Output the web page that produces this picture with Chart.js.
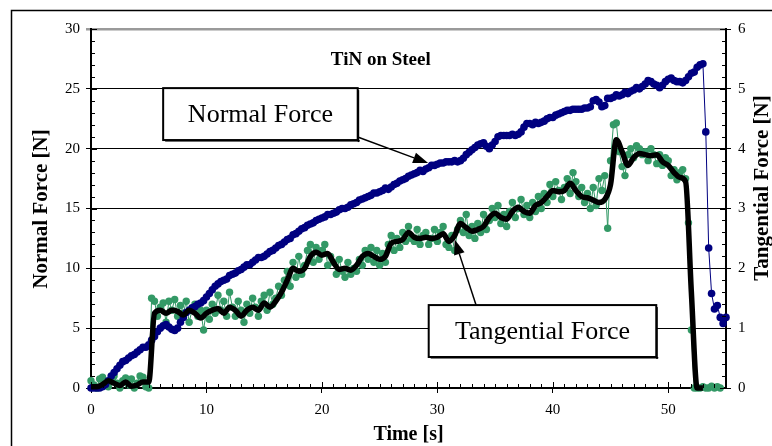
<!DOCTYPE html>
<html>
<head>
<meta charset="utf-8">
<script src="https://cdn.jsdelivr.net/npm/chart.js@4.4.1/dist/chart.umd.min.js"></script>
<style>
  html, body { margin: 0; padding: 0; background: #fff; }
  #wrap { width: 772px; height: 446px; }
</style>
</head>
<body>
<div id="wrap"><canvas id="chart" width="772" height="446"></canvas></div>
<script>
// sample grid (s)
const timeStep = 0.25;
const smoothStep = 0.5;

// Normal force [N], every 0.25 s from 0 to 55 s
const normalForce = [
  0, 0, 0, 0,
  0.1, 0.3, 0.6, 1.0,
  1.3, 1.6, 1.9, 2.2,
  2.3, 2.5, 2.7, 2.8,
  3.0, 3.2, 3.4, 3.4,
  3.6, 4.0, 4.3, 4.7,
  5.0, 5.2, 5.3, 5.1,
  4.9, 4.8, 5.0, 5.5,
  5.9, 6.3, 6.5, 6.7,
  6.8, 7.0, 7.1, 7.3,
  7.6, 7.9, 8.2, 8.5,
  8.7, 8.9, 9.0, 9.1,
  9.4, 9.5, 9.6, 9.8,
  9.9, 10.1, 10.3, 10.3,
  10.5, 10.7, 10.9, 10.9,
  11.0, 11.2, 11.4, 11.5,
  11.7, 11.9, 12.0, 12.2,
  12.4, 12.5, 12.8, 12.9,
  13.1, 13.3, 13.4, 13.6,
  13.7, 13.8, 14.0, 14.1,
  14.2, 14.3, 14.5, 14.5,
  14.6, 14.7, 14.9, 15.0,
  15.0, 15.1, 15.3, 15.4,
  15.5, 15.7, 15.8, 15.9,
  16.0, 16.1, 16.3, 16.3,
  16.4, 16.5, 16.7, 16.6,
  16.8, 17.0, 17.1, 17.3,
  17.4, 17.5, 17.7, 17.8,
  17.9, 18.0, 18.2, 18.1,
  18.3, 18.4, 18.6, 18.6,
  18.7, 18.8, 18.8, 18.9,
  18.9, 18.9, 19.0, 18.9,
  19.0, 19.2, 19.5, 19.7,
  19.9, 20.1, 20.3, 20.4,
  20.5, 20.2, 20.0, 20.3,
  20.6, 21.0, 21.1, 21.1,
  21.1, 21.1, 21.2, 21.1,
  21.2, 21.4, 21.8, 22.1,
  22.1, 22.0, 22.2, 22.1,
  22.2, 22.3, 22.5, 22.6,
  22.6, 22.8, 22.9, 23.0,
  23.1, 23.2, 23.2, 23.3,
  23.3, 23.3, 23.3, 23.4,
  23.4, 23.5, 24.0, 24.1,
  23.9, 23.5, 23.6, 24.2,
  24.2, 24.3, 24.5, 24.4,
  24.5, 24.7, 24.6, 24.8,
  24.9, 25.1, 25.0, 25.2,
  25.4, 25.7, 25.6, 25.4,
  25.3, 25.1, 25.3, 25.6,
  25.8, 25.9, 25.7, 25.6,
  25.6, 25.5, 25.7, 26.0,
  26.3, 26.4, 26.8, 27.0,
  27.1, 21.4, 11.7, 7.9,
  6.6, 6.9, 5.9, 5.4,
  5.9
];

// Tangential force [N], raw readings, every 0.25 s
const tangentialRaw = [
  0.12, 0.05, 0.0, 0.15,
  0.18, 0.1, 0.02, 0.15,
  0.2, 0.08, 0.0, 0.12,
  0.17, 0.05, 0.15, 0.0,
  0.08, 0.2, 0.18, 0.02,
  0.0, 1.5, 1.45, 1.2,
  1.35, 1.42, 1.1, 1.45,
  1.3, 1.48, 1.2, 1.38,
  1.25, 1.45, 1.1, 1.3,
  1.4, 1.2, 1.3, 0.97,
  1.3, 1.15, 1.4, 1.25,
  1.55, 1.3, 1.45, 1.2,
  1.6, 1.35, 1.2, 1.45,
  1.3, 1.1, 1.4, 1.25,
  1.5, 1.35, 1.2, 1.45,
  1.55, 1.3, 1.6, 1.4,
  1.5, 1.7, 1.55, 1.8,
  1.95, 1.7, 2.1, 1.85,
  2.2, 1.9, 2.05, 2.3,
  2.4, 2.1, 2.35, 2.15,
  2.3, 2.4, 2.05, 2.2,
  2.1, 1.9, 2.15, 1.95,
  1.85, 2.1, 1.9, 2.0,
  1.95, 2.15, 2.05, 2.3,
  2.15, 2.35, 2.1, 2.3,
  2.05, 2.25, 2.1, 2.4,
  2.55, 2.3, 2.5, 2.35,
  2.6, 2.45, 2.7, 2.5,
  2.45, 2.65, 2.4, 2.55,
  2.6, 2.4, 2.5, 2.65,
  2.45, 2.6, 2.7, 2.4,
  2.35, 2.55, 2.3, 2.65,
  2.8, 2.6, 2.9, 2.55,
  2.7, 2.5, 2.75, 2.6,
  2.9, 2.65, 2.8, 3.0,
  2.85, 3.05, 2.75, 2.9,
  2.7, 2.95, 3.1, 2.85,
  3.0, 3.15, 2.9, 3.05,
  2.85, 3.1, 2.95, 3.2,
  3.0, 3.25, 3.1, 3.4,
  3.2, 3.45, 3.3, 3.15,
  3.35, 3.5, 3.25, 3.6,
  3.45, 3.2, 3.35, 3.1,
  3.25, 3.0, 3.35, 3.05,
  3.5, 3.3, 3.55, 2.67,
  3.8, 4.4, 4.43, 3.95,
  3.7, 3.55, 3.9, 4.0,
  3.85, 4.05, 4.0, 3.9,
  3.95, 3.8, 4.0, 3.9,
  3.75, 3.9, 3.72, 3.85,
  3.8, 3.55, 3.65, 3.48,
  3.6, 3.65, 3.5, 2.76,
  0.97, 0.0, 0.0, 0.0,
  0.02, 0.0, 0.0, 0.03,
  0.0, 0.02, 0.0, null,
  null
];

// Tangential force [N], smoothed, every 0.5 s from 0 to 53 s
const tangentialSmooth = [
  0.02, 0.02, 0.06, 0.12, 0.08, 0.04, 0.1, 0.03, 0.05, 0.1,
  0.1, 1.25, 1.3, 1.25, 1.3, 1.28, 1.22, 1.3, 1.25, 1.17,
  1.25, 1.3, 1.33, 1.25, 1.35, 1.3, 1.2, 1.3, 1.35, 1.3,
  1.42, 1.35, 1.45, 1.6, 1.8, 2.0, 1.95, 2.0, 2.2, 2.27,
  2.22, 2.25, 2.1, 1.98, 2.0, 1.97, 2.05, 2.2, 2.25, 2.2,
  2.15, 2.2, 2.42, 2.45, 2.48, 2.6, 2.52, 2.5, 2.52, 2.5,
  2.52, 2.58, 2.45, 2.55, 2.75, 2.68, 2.62, 2.65, 2.7, 2.85,
  2.92, 2.85, 2.82, 2.95, 3.02, 2.95, 2.92, 3.05, 3.1, 3.2,
  3.3, 3.28, 3.3, 3.42, 3.3, 3.2, 3.18, 3.14, 3.1, 3.15,
  3.4, 4.15, 3.95, 3.72, 3.85, 3.92, 3.9, 3.88, 3.9, 3.78,
  3.72, 3.6, 3.52, 3.45, 1.6, 0.0, 0.0
];

const timeFine = normalForce.map((_, i) => i * timeStep);
const timeSmooth = tangentialSmooth.map((_, i) => i * smoothStep);

const SERIF = "'Liberation Serif', 'Times New Roman', serif";

// annotation boxes, in data units (time, normal force)
const labelNormal = { text: "Normal Force", x0: 6.25, x1: 23.1, y0: 25.06, y1: 20.72, from: [23.1, 20.97], to: [29.2, 18.8] };
const labelTangential = { text: "Tangential Force", x0: 29.25, x1: 48.96, y0: 6.93, y1: 2.59, from: [33.35, 6.93], to: [31.5, 12.4] };

function drawArrow(ctx, x1, y1, x2, y2) {
  const ang = Math.atan2(y2 - y1, x2 - x1);
  const hl = 15, hw = 5.5;
  const bx = x2 - hl * Math.cos(ang), by = y2 - hl * Math.sin(ang);
  ctx.beginPath();
  ctx.moveTo(x1, y1);
  ctx.lineTo(bx, by);
  ctx.stroke();
  ctx.beginPath();
  ctx.moveTo(x2, y2);
  ctx.lineTo(bx + hw * Math.sin(ang), by - hw * Math.cos(ang));
  ctx.lineTo(bx - hw * Math.sin(ang), by + hw * Math.cos(ang));
  ctx.closePath();
  ctx.fill();
}

function drawLabel(chart, lab) {
  const { ctx, scales: { x, yL } } = chart;
  const l = x.getPixelForValue(lab.x0), r = x.getPixelForValue(lab.x1);
  const t = yL.getPixelForValue(lab.y0), b = yL.getPixelForValue(lab.y1);
  ctx.fillStyle = "#000";
  ctx.strokeStyle = "#000";
  ctx.lineWidth = 1.5;
  drawArrow(ctx, x.getPixelForValue(lab.from[0]), yL.getPixelForValue(lab.from[1]),
    x.getPixelForValue(lab.to[0]), yL.getPixelForValue(lab.to[1]));
  ctx.fillStyle = "#fff";
  ctx.fillRect(l, t, r - l, b - t);
  ctx.fillStyle = "#000";
  ctx.fillRect(l + 2, b, r - l, 1.5);
  ctx.fillRect(r, t + 2, 1.5, b - t);
  ctx.lineWidth = 2;
  ctx.strokeRect(l, t, r - l, b - t);
  ctx.font = "26px " + SERIF;
  ctx.textAlign = "center";
  ctx.textBaseline = "middle";
  ctx.fillText(lab.text, (l + r) / 2, (t + b) / 2 + 1);
}

const decorations = {
  id: "decorations",
  beforeDraw(chart) {
    const { ctx } = chart;
    ctx.save();
    ctx.fillStyle = "#fff";
    ctx.fillRect(0, 0, chart.width, chart.height);
    ctx.strokeStyle = "#000";
    ctx.lineWidth = 1.5;
    ctx.strokeRect(11.5, 10.5, 800, 500);
    ctx.restore();
  },
  afterDraw(chart) {
    const { ctx, chartArea: a, scales: { x, yL, yR } } = chart;
    ctx.save();
    // inner tick marks
    ctx.strokeStyle = "#000";
    ctx.lineWidth = 1;
    ctx.beginPath();
    for (let s = 0; s <= 55; s++) {
      const px = Math.round(x.getPixelForValue(s)) + 0.5;
      ctx.moveTo(px, a.bottom);
      ctx.lineTo(px, a.bottom - (s % 10 === 0 ? 6 : 4));
    }
    for (let n = 0; n <= 30; n++) {
      const py = Math.round(yL.getPixelForValue(n)) + 0.5;
      ctx.moveTo(a.left, py);
      ctx.lineTo(a.left + (n % 5 === 0 ? 6 : 4), py);
    }
    for (let k = 0; k <= 30; k++) {
      const py = Math.round(yR.getPixelForValue(k * 0.2)) + 0.5;
      ctx.moveTo(a.right, py);
      ctx.lineTo(a.right - (k % 5 === 0 ? 6 : 4), py);
    }
    ctx.stroke();

    // axis titles
    ctx.fillStyle = "#000";
    ctx.font = "bold 20px " + SERIF;
    ctx.textAlign = "center";
    ctx.textBaseline = "middle";
    ctx.fillText("Time [s]", (a.left + a.right) / 2, 435);
    ctx.font = "bold 21px " + SERIF;
    ctx.save();
    ctx.translate(42, 209);
    ctx.rotate(-Math.PI / 2);
    ctx.fillText("Normal Force [N]", 0, 0);
    ctx.restore();
    ctx.save();
    ctx.translate(763, 188);
    ctx.rotate(-Math.PI / 2);
    ctx.fillText("Tangential Force [N]", 0, 0);
    ctx.restore();

    // chart title inside plot
    ctx.font = "bold 19px " + SERIF;
    ctx.fillText("TiN on Steel", x.getPixelForValue(25.1), yL.getPixelForValue(27.4));

    drawLabel(chart, labelNormal);
    drawLabel(chart, labelTangential);
    ctx.restore();
  }
};

const tickFont = { family: SERIF, size: 15 };

new Chart(document.getElementById("chart"), {
  type: "scatter",
  data: {
    datasets: [
      {
        label: "Tangential Force (smoothed)",
        data: timeSmooth.map((t, i) => ({ x: t, y: tangentialSmooth[i] })),
        yAxisID: "yR",
        showLine: true,
        borderColor: "#000",
        borderWidth: 5.5,
        pointRadius: 0,
        cubicInterpolationMode: "monotone",
        borderJoinStyle: "round",
        order: 1
      },
      {
        label: "Normal Force",
        data: timeFine.map((t, i) => ({ x: t, y: normalForce[i] })),
        yAxisID: "yL",
        showLine: true,
        borderColor: "#000080",
        borderWidth: 1,
        pointRadius: 3.8,
        pointBackgroundColor: "#000080",
        pointBorderWidth: 0,
        order: 2
      },
      {
        label: "Tangential Force",
        data: timeFine.map((t, i) => ({ x: t, y: tangentialRaw[i] })),
        yAxisID: "yR",
        showLine: true,
        spanGaps: false,
        borderColor: "#339966",
        borderWidth: 1,
        pointRadius: 3.7,
        pointBackgroundColor: "#339966",
        pointBorderWidth: 0,
        order: 3
      }
    ]
  },
  options: {
    responsive: false,
    animation: false,
    clip: false,
    layout: { padding: { top: 29, left: 0, right: 0, bottom: 0 } },
    plugins: {
      legend: { display: false },
      title: { display: false },
      tooltip: { enabled: false }
    },
    scales: {
      x: {
        type: "linear",
        min: 0,
        max: 55,
        ticks: { stepSize: 10, includeBounds: false, color: "#000", font: tickFont, padding: 8, maxRotation: 0 },
        grid: { drawOnChartArea: false, drawTicks: true, tickLength: 5, color: "#000" },
        border: { color: "#000", width: 2 },
        afterFit(scale) { scale.height = 58; }
      },
      yL: {
        position: "left",
        min: 0,
        max: 30,
        ticks: { stepSize: 5, color: "#000", font: tickFont, padding: 6 },
        grid: {
          tickLength: 5,
          color: (c) => (c.tick && c.tick.value === 30 ? "#9a9a9a" : "#000"),
          lineWidth: (c) => (c.tick && c.tick.value === 30 ? 2.5 : 1)
        },
        border: { color: "#000", width: 2 },
        afterFit(scale) { scale.width = 91; }
      },
      yR: {
        position: "right",
        min: 0,
        max: 6,
        ticks: { stepSize: 1, color: "#000", font: tickFont, padding: 7 },
        grid: { drawOnChartArea: false, tickLength: 5, color: "#000" },
        border: { color: "#000", width: 2 },
        afterFit(scale) { scale.width = 46; }
      }
    }
  },
  plugins: [decorations]
});
</script>
</body>
</html>
